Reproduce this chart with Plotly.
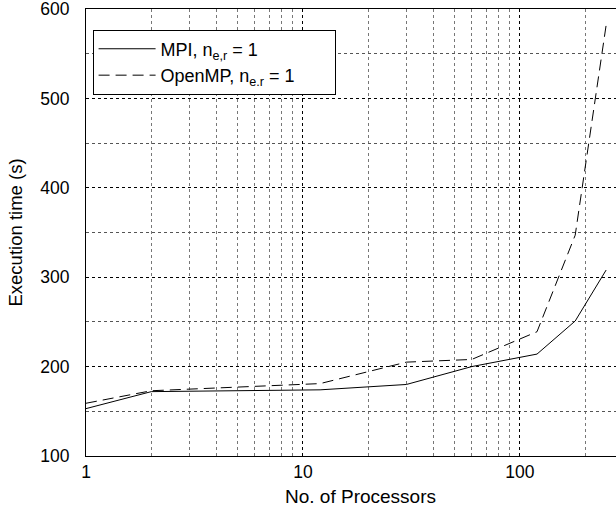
import plotly.graph_objects as go

processors = [1, 2, 12, 30, 60, 120, 180, 250]
mpi_time = [153, 172, 174, 180, 200, 214, 251, 308]
openmp_time = [159, 173, 181, 205, 208, 239, 347, 582]
series_names = ["MPI, n<sub>e,r</sub> = 1", "OpenMP, n<sub>e.r</sub> = 1"]
x_ticks = [1, 10, 100]
x_minor = [2, 3, 4, 5, 6, 7, 8, 9, 20, 30, 40, 50, 60, 70, 80, 90, 200, 300]
y_ticks = [100, 200, 300, 400, 500, 600]

FONT = "Liberation Sans, Arial, Helvetica, sans-serif"
PAD = "&nbsp;" * 7  # right padding inside the legend box

fig = go.Figure()
fig.add_trace(go.Scatter(x=processors, y=mpi_time, mode="lines", name=series_names[0],
                         line=dict(color="black", width=1)))
fig.add_trace(go.Scatter(x=processors, y=openmp_time, mode="lines", name=series_names[1] + PAD,
                         line=dict(color="black", width=1, dash="11px,6px")))

fig.update_layout(
    width=635, height=510,
    margin=dict(l=86, r=0, t=9, b=54),
    paper_bgcolor="white", plot_bgcolor="white",
    font=dict(family=FONT, size=18, color="black"),
    showlegend=True,
    legend=dict(x=0.012, y=0.954, xanchor="left", yanchor="top",
                bordercolor="black", borderwidth=1, bgcolor="white",
                font=dict(family=FONT, size=18, color="black"),
                itemwidth=57, tracegroupgap=0),
    xaxis=dict(type="log", range=[0, 2.531],
               tickvals=x_ticks, ticktext=[str(v) for v in x_ticks],
               showgrid=True, gridcolor="black", griddash="dot", gridwidth=1,
               minor=dict(tickvals=x_minor, showgrid=True, gridcolor="#777777",
                          griddash="dot", gridwidth=1, ticks=""),
               showline=True, linecolor="black", linewidth=1, mirror=True,
               ticks="", zeroline=False,
               tickfont=dict(size=17.5),
               title=dict(text="No. of Processors", font=dict(size=19), standoff=8)),
    yaxis=dict(range=[100, 600], tickvals=y_ticks,
               showgrid=True, gridcolor="black", griddash="dot", gridwidth=1,
               minor=dict(dtick=50, showgrid=True, gridcolor="#555555",
                          griddash="dot", gridwidth=1, ticks=""),
               showline=True, linecolor="black", linewidth=1, mirror=True,
               ticks="", zeroline=False, ticklabelstandoff=12,
               ticklabeloverflow="allow",
               tickfont=dict(size=17.5),
               title=dict(text="Execution time (s)", font=dict(size=18.5), standoff=12)),
)

fig.write_html("out.html", config={"displayModeBar": False},
               post_script="document.body.style.margin='0px';document.body.style.overflow='hidden';")
